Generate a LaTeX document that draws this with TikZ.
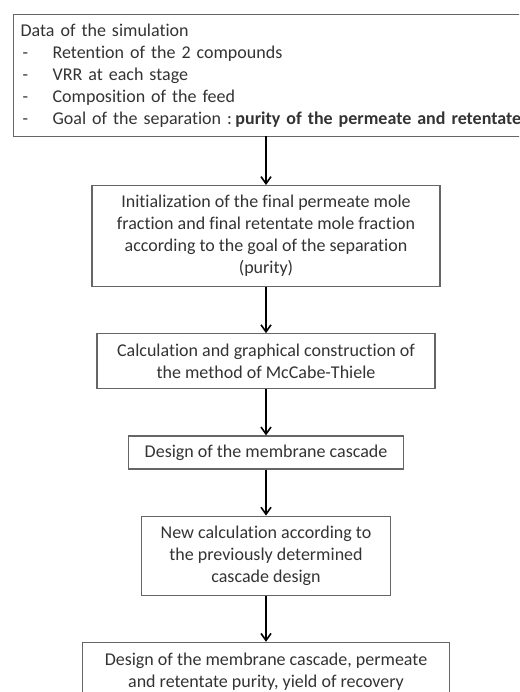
\documentclass[tikz,border=0pt]{standalone}
\usepackage{fontspec}
\setmainfont{Carlito}[Ligatures=NoCommon]
\usetikzlibrary{arrows.meta,positioning}

\begin{document}
\begin{tikzpicture}[x=1pt, y=-1pt, node distance=46pt,
  every node/.style={font=\fontsize{18}{22}\selectfont, text=black!80}]

  % ===== Styles =====
  \tikzset{
    arrow/.style={-{Straight Barb[length=7pt,width=10pt]}, line width=1.6pt},
    stepbox/.style={draw=black!60, line width=1.2pt, inner sep=0pt, align=center},
    databox/.style={draw=black!60, line width=1.2pt, inner xsep=7pt, inner ysep=0pt,
      text width=510pt, align=left, anchor=north west}
  }

  % page frame (box of the data runs past the right edge)
  \useasboundingbox (0,0) rectangle (519,692);
  \clip (0,0) rectangle (519,692);

  % ===== Input data =====
  \node[databox, minimum height=122pt] (data) at (13,14) {%
    Data of the simulation\\
    \hspace*{2pt}\makebox[30pt][l]{-}Retention of the 2 compounds\\
    \hspace*{2pt}\makebox[30pt][l]{-}VRR at each stage\\
    \hspace*{2pt}\makebox[30pt][l]{-}Composition of the feed\\
    \hspace*{2pt}\makebox[30pt][l]{-}Goal of the separation :\hspace{3.5pt}\textbf{purity of the permeate and retentate}};
  \coordinate (datafoot) at (266,136);

  % ===== Steps, one under the other =====
  \node[stepbox, minimum width=348pt, minimum height=101pt, below=49pt of datafoot] (init)
    {Initialization of the final permeate mole\\fraction and final retentate mole fraction\\according to the goal of the separation\\(purity)};
  \node[stepbox, minimum width=338pt, minimum height=55pt, below=of init] (mccabe)
    {Calculation and graphical construction of\\the method of McCabe-Thiele};
  \node[stepbox, minimum width=275pt, minimum height=33pt, below=of mccabe] (design)
    {Design of the membrane cascade};
  \node[stepbox, minimum width=249pt, minimum height=79pt, below=of design] (recalc)
    {New calculation according to\\the previously determined\\cascade design};
  \node[stepbox, minimum width=367pt, minimum height=59pt, below=of recalc] (result)
    {Design of the membrane cascade, permeate\\and retentate purity, yield of recovery};

  % ===== Connections =====
  \draw[arrow] (datafoot) -- (init);
  \draw[arrow] (init) -- (mccabe);
  \draw[arrow] (mccabe) -- (design);
  \draw[arrow] (design) -- (recalc);
  \draw[arrow] (recalc) -- (result);

\end{tikzpicture}
\end{document}
